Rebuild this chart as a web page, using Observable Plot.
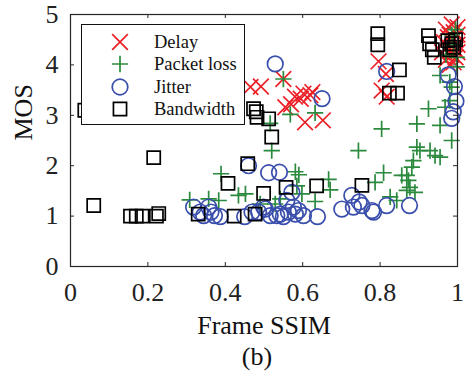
<!DOCTYPE html>
<html><head><meta charset="utf-8">
<script src="https://cdn.jsdelivr.net/npm/d3@7"></script>
<script src="https://cdn.jsdelivr.net/npm/@observablehq/plot@0.6"></script>
<style>
body{margin:0;background:#fff;}
#wrap{position:relative;width:471px;height:372px;font-family:"Liberation Serif","Times New Roman",serif;color:#111;}
#legend{position:absolute;left:81px;top:24px;width:162px;height:99px;border:1px solid #111;background:#fff;}
.row{position:absolute;left:0;height:22px;width:160px;}
.row svg{position:absolute;left:28px;top:-9px;}
.row span{position:absolute;left:72px;top:0;font-size:18.5px;line-height:22px;}
#cap{position:absolute;top:340px;left:257px;transform:translateX(-50%);font-size:26px;line-height:34px;}
</style></head>
<body><div id="wrap"></div>
<script>
const seriesNames = ["Delay", "Packet loss", "Jitter", "Bandwidth"];
const xTicks = [0, 0.2, 0.4, 0.6, 0.8, 1];
const yTicks = [0, 1, 2, 3, 4, 5];

const delayX = [0.465,0.492,0.55,0.58,0.595,0.602,0.62,0.625,0.555,0.57,0.606,0.652,
  0.796,0.815,0.804,0.817,
  0.97,0.98,0.99,1.0,0.995,0.985,0.975,0.99,1.0,0.965,0.98,1.0,0.995,0.975,0.99,0.96,0.985,1.0,0.97];
const delayY = [3.56,3.57,3.72,3.37,3.33,3.43,3.4,3.46,3.16,3.22,2.86,2.9,
  4.07,3.82,3.49,3.37,
  4.7,4.6,4.5,4.75,4.3,4.2,4.35,4.05,4.4,4.45,4.0,4.6,4.15,4.55,4.65,4.25,4.8,4.25,4.1];

const lossX = [0.308,0.357,0.389,0.383,0.434,0.452,0.49,0.529,0.52,0.516,0.55,0.568,0.632,0.542,0.581,0.59,0.585,0.598,0.632,0.667,0.671,0.744,0.787,0.804,0.809,0.826,0.843,0.856,0.869,0.873,0.877,0.882,0.886,0.89,0.895,0.895,0.903,0.929,0.942,0.955,0.925,0.955,0.968,0.985,0.98,0.985,0.98,0.955,0.998,0.998,0.99,0.995,0.985,0.97,0.869];
const lossY = [1.32,1.34,1.84,1.31,1.41,1.44,1.24,1.24,2.3,2.84,3.72,3.02,3.05,1.34,1.88,1.82,1.6,1.44,1.29,1.73,1.52,2.3,1.67,2.73,1.86,1.38,1.31,1.81,1.81,1.71,1.57,1.97,2.1,1.47,2.83,2.37,2.3,2.3,2.2,2.17,3.13,2.8,3.16,2.5,3.29,3.56,3.66,3.79,3.96,4.15,4.4,4.7,4.6,4.2,1.51];

const jitterX = [0.318,0.335,0.344,0.357,0.363,0.372,0.387,0.45,0.46,0.469,0.486,0.499,0.503,0.512,0.54,0.516,0.533,0.542,0.55,0.559,0.563,0.572,0.576,0.581,0.589,0.602,0.638,0.701,0.727,0.731,0.746,0.753,0.779,0.783,0.817,0.876,0.529,0.65,0.817,0.976,0.992,0.996,0.989,0.985];
const jitterY = [1.18,1.08,1.01,1.18,1.08,1.01,0.99,0.99,2.0,1.08,1.08,1.18,1.14,1.86,1.87,1.01,1.01,1.04,0.99,1.31,1.08,1.47,1.18,1.04,1.11,1.01,0.99,1.14,1.41,1.18,1.28,1.21,1.11,1.08,1.21,1.21,4.02,3.33,3.87,3.8,3.57,3.28,3.07,2.94];

const bwX = [0.037,0.06,0.155,0.17,0.185,0.215,0.222,0.228,0.33,0.407,0.423,0.458,0.477,0.499,0.557,0.636,0.753,0.473,0.48,0.482,0.512,0.52,0.794,0.794,0.85,0.824,0.845,0.925,0.928,0.935,0.94,0.975,0.985,0.99,0.995,0.98];
const bwY = [3.1,1.21,1.0,1.0,1.0,2.16,1.0,1.05,1.04,1.65,1.0,2.04,1.04,1.45,1.57,1.6,1.61,3.13,3.07,2.96,2.93,2.57,4.62,4.4,3.9,3.44,3.44,4.58,4.42,4.3,4.15,4.48,4.42,4.35,4.5,4.3];

const colors = {"Delay":"#ec2027","Packet loss":"#2b8a3e","Jitter":"#3a4eab","Bandwidth":"#000000"};
const symbols = {"Delay":"times","Packet loss":"plus","Jitter":"circle","Bandwidth":"square"};
const radii = {"Delay":7.2,"Packet loss":5.3,"Jitter":7.8,"Bandwidth":7.4};

const toRows = (xs, ys) => xs.map((x, i) => ({x, y: ys[i]}));
const sets = {
  "Delay": toRows(delayX, delayY),
  "Packet loss": toRows(lossX, lossY),
  "Jitter": toRows(jitterX, jitterY),
  "Bandwidth": toRows(bwX, bwY)
};

const font = '"Liberation Serif","Times New Roman",serif';
const dark = "#262626";
const fmt = d => String(d);

const chart = Plot.plot({
  width: 471, height: 340,
  marginLeft: 70, marginRight: 14, marginTop: 14, marginBottom: 74,
  x: {domain: [0, 1]},
  y: {domain: [0, 5]},
  style: {fontFamily: font, background: "#fff", overflow: "visible"},
  marks: [
    Plot.axisX(xTicks, {tickSize: 0, tickPadding: 16, tickFormat: fmt, label: null, fontSize: 26, fontFamily: font, fill: "#222"}),
    Plot.axisY(yTicks, {tickSize: 0, tickPadding: 12, tickFormat: fmt, label: null, fontSize: 26, fontFamily: font, fill: "#222"}),
    Plot.tickX(xTicks, {x: d => d, insetTop: 248, stroke: dark}),
    Plot.tickX(xTicks, {x: d => d, insetBottom: 248, stroke: dark}),
    Plot.tickY(yTicks, {y: d => d, insetRight: 383, stroke: dark}),
    Plot.tickY(yTicks, {y: d => d, insetLeft: 383, stroke: dark}),
    ...seriesNames.map(s => Plot.dot(sets[s], {x: "x", y: "y", symbol: () => symbols[s], r: radii[s], stroke: colors[s], fill: "none", strokeWidth: 1.7})),
    Plot.frame({stroke: dark, strokeWidth: 1.2}),
    Plot.text(["Frame SSIM"], {frameAnchor: "bottom", dy: 59, lineAnchor: "middle", fontSize: 26, fontFamily: font, fill: "#111"}),
    Plot.text(["MOS"], {frameAnchor: "left", dx: -47, rotate: -90, lineAnchor: "middle", fontSize: 26, fontFamily: font, fill: "#111"})
  ]
});

const wrap = document.getElementById("wrap");
wrap.appendChild(chart);

const legend = document.createElement("div");
legend.id = "legend";
const rowTops = [6, 28, 51, 73];
seriesNames.forEach((s, i) => {
  const row = document.createElement("div");
  row.className = "row";
  row.style.top = rowTops[i] + "px";
  const svg = d3.create("svg").attr("width", 20).attr("height", 40).attr("viewBox", "-10 -20 20 40");
  const symMap = {times: d3.symbolTimes, plus: d3.symbolPlus, circle: d3.symbolCircle, square: d3.symbolSquare};
  svg.append("path")
    .attr("d", d3.symbol(symMap[symbols[s]], Math.PI * radii[s] * radii[s])())
    .attr("fill", "none").attr("stroke", colors[s]).attr("stroke-width", 1.7);
  row.appendChild(svg.node());
  const t = document.createElement("span");
  t.textContent = s;
  row.appendChild(t);
  legend.appendChild(row);
});
wrap.appendChild(legend);

const cap = document.createElement("div");
cap.id = "cap";
cap.textContent = "(b)";
wrap.appendChild(cap);
</script>
</body></html>
